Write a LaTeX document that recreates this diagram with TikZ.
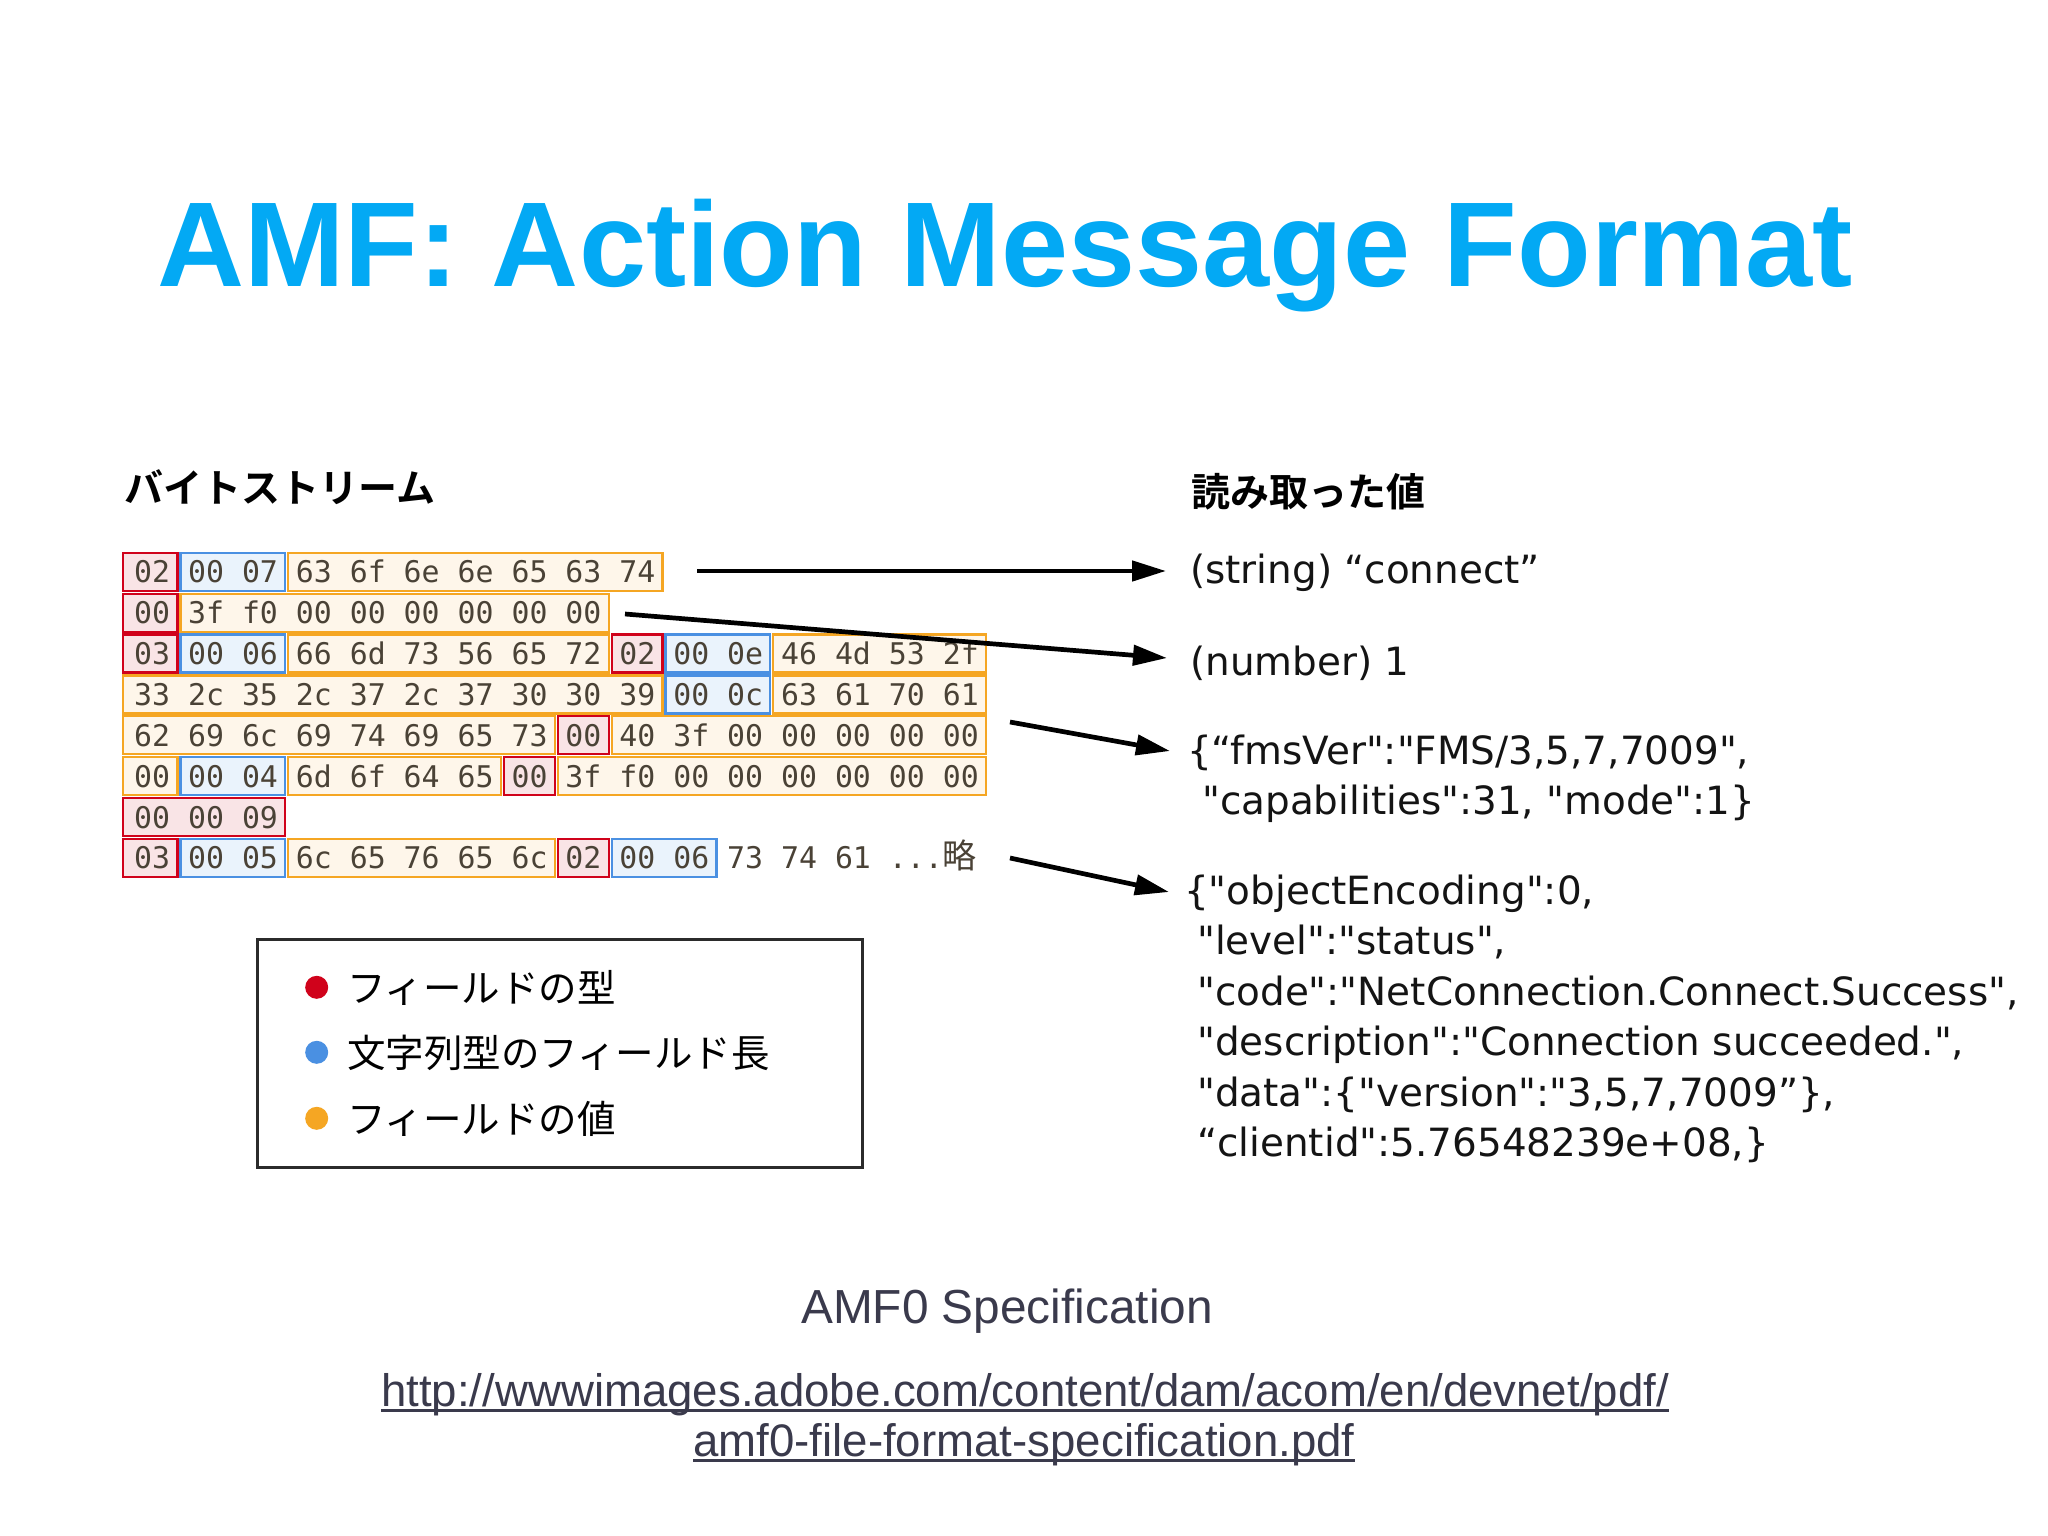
\documentclass[tikz,border=0pt]{standalone}
\usepackage{fontspec}
\setmainfont{DejaVu Sans}[Ligatures=TeXOff]
\newfontfamily\titlefont{Liberation Sans}
\newfontfamily\hexfont{DejaVu Sans Mono}
\newfontfamily\cjk{Noto Sans CJK JP}[BoldFont={Noto Sans CJK JP Bold}]
\usetikzlibrary{arrows.meta}

\definecolor{titleblue}{HTML}{03A9F4}
\definecolor{fred}{HTML}{D0021B}
\definecolor{fblue}{HTML}{4A90E2}
\definecolor{forange}{HTML}{F5A623}
\definecolor{redfill}{HTML}{F9E4E6}
\definecolor{bluefill}{HTML}{EAF3FC}
\definecolor{orangefill}{HTML}{FEF6EA}
\definecolor{hexgray}{HTML}{4A4236}
\definecolor{slate}{HTML}{3A3A4C}
\definecolor{boxgray}{HTML}{2B2B2B}

\newcommand\fsz[1]{\fontsize{#1}{#1}\selectfont}

\tikzset{
  redbox/.style={draw=fred, fill=redfill, line width=2.2pt},
  bluebox/.style={draw=fblue, fill=bluefill, line width=2.2pt},
  orangebox/.style={draw=forange, fill=orangefill, line width=2.2pt},
  hexrow/.style={anchor=base west, inner sep=0pt, text=hexgray, font=\hexfont\fsz{29.85}},
  valtext/.style={anchor=base west, inner sep=0pt, text=black!92, font=\fsz{38.9}},
  legtext/.style={anchor=west, inner sep=0pt, text=black, font=\cjk\fsz{38.5}},
  legdot/.style={circle, inner sep=0pt, minimum size=23pt},
  heading/.style={anchor=west, inner sep=0pt, text=black, font=\cjk\bfseries\fsz{39}},
  conn/.style={line width=4.7pt, black, -{Triangle[length=34pt,width=20pt]}},
  reftext/.style={anchor=base, inner sep=0pt, text=slate, font=\titlefont\fsz{45.6}},
}

% field box: row, first byte, last byte, style
\newcommand\fld[4]{%
  \pgfmathsetmacro\fldyt{552.7+40.9*#1}%
  \pgfmathsetmacro\fldyb{\fldyt+38}%
  \pgfmathsetmacro\fldxl{ifthenelse(#2==0,122.7,126.5+53.9*#2)}%
  \pgfmathsetmacro\fldxr{123.5+53.9*(#3+1)}%
  \draw[#4] (\fldxl,\fldyt) rectangle (\fldxr,\fldyb);%
}

\begin{document}
\begin{tikzpicture}[x=1pt,y=-1pt]
\useasboundingbox (0,0) rectangle (2048,1536);
\fill[white] (0,0) rectangle (2048,1536);

% title
\node[anchor=base west, inner sep=0pt, text=titleblue, font=\titlefont\bfseries\fsz{120.6}] (title) at (157,286) {AMF: Action Message Format};

% headings
\node[heading] (hbytes) at (124,487) {バイトストリーム};
\node[heading] (hvals) at (1191,492) {読み取った値};

% field boxes
\fld{0}{0}{0}{redbox} \fld{0}{1}{2}{bluebox} \fld{0}{3}{9}{orangebox}
\fld{1}{0}{0}{redbox} \fld{1}{1}{8}{orangebox}
\fld{2}{0}{0}{redbox} \fld{2}{1}{2}{bluebox} \fld{2}{3}{8}{orangebox}
\fld{2}{9}{9}{redbox} \fld{2}{10}{11}{bluebox} \fld{2}{12}{15}{orangebox}
\fld{3}{0}{9}{orangebox} \fld{3}{10}{11}{bluebox} \fld{3}{12}{15}{orangebox}
\fld{4}{0}{7}{orangebox} \fld{4}{8}{8}{redbox} \fld{4}{9}{15}{orangebox}
\fld{5}{0}{0}{orangebox} \fld{5}{1}{2}{bluebox} \fld{5}{3}{6}{orangebox}
\fld{5}{7}{7}{redbox} \fld{5}{8}{15}{orangebox}
\fld{6}{0}{2}{redbox}
\fld{7}{0}{0}{redbox} \fld{7}{1}{2}{bluebox} \fld{7}{3}{7}{orangebox}
\fld{7}{8}{8}{redbox} \fld{7}{9}{10}{bluebox}

% hex rows
\node[hexrow] (r0) at (134,582.6) {02 00 07 63 6f 6e 6e 65 63 74};
\node[hexrow] (r1) at (134,623.5) {00 3f f0 00 00 00 00 00 00};
\node[hexrow] (r2) at (134,664.4) {03 00 06 66 6d 73 56 65 72 02 00 0e 46 4d 53 2f};
\node[hexrow] (r3) at (134,705.3) {33 2c 35 2c 37 2c 37 30 30 39 00 0c 63 61 70 61};
\node[hexrow] (r4) at (134,746.2) {62 69 6c 69 74 69 65 73 00 40 3f 00 00 00 00 00};
\node[hexrow] (r5) at (134,787.1) {00 00 04 6d 6f 64 65 00 3f f0 00 00 00 00 00 00};
\node[hexrow] (r6) at (134,828.0) {00 00 09};
\node[hexrow] (r7) at (134,868.9) {03 00 05 6c 65 76 65 6c 02 00 06 73 74 61 ...{\cjk\fsz{34}略}};

% values
\node[valtext] (v1) at (1190,583) {(string) “connect”};
\node[valtext] (v2) at (1190,675) {(number) 1};
\node[valtext] (v3a) at (1187,764) {\{“fmsVer":"FMS/3,5,7,7009",};
\node[valtext] (v3b) at (1202,814) {"capabilities":31, "mode":1\}};
\node[valtext] (v4a) at (1184,904.5) {\{"objectEncoding":0,};
\node[valtext] (v4b) at (1197,954.9) {"level":"status",};
\node[valtext] (v4c) at (1197,1005.3) {"code":"NetConnection.Connect.Success",};
\node[valtext] (v4d) at (1197,1055.7) {"description":"Connection succeeded.",};
\node[valtext] (v4e) at (1197,1106.1) {"data":\{"version":"3,5,7,7009”\},};
\node[valtext] (v4f) at (1197,1156.5) {“clientid":5.76548239e+08,\}};

% arrows
\coordinate (a1s) at (697,571);  \coordinate (a1e) at (1166,571);
\coordinate (a2s) at (625,614);  \coordinate (a2e) at (1167,658);
\coordinate (a3s) at (1010,722); \coordinate (a3e) at (1170,751);
\coordinate (a4s) at (1010,858); \coordinate (a4e) at (1169,892);
\draw[conn] (a1s) -- (a1e);
\draw[conn] (a2s) -- (a2e);
\draw[conn] (a3s) -- (a3e);
\draw[conn] (a4s) -- (a4e);

% legend
\node[draw=boxgray, line width=2.5pt, anchor=north west, inner sep=0pt,
      minimum width=605pt, minimum height=228pt] (legend) at (256,938) {};
\node[legdot, fill=fred] (d1) at (316.7,987.3) {};
\node[legdot, fill=fblue] (d2) at (316.7,1052.3) {};
\node[legdot, fill=forange] (d3) at (316.7,1118.3) {};
\node[legtext] (l1) at (347,988) {フィールドの型};
\node[legtext] (l2) at (347,1053) {文字列型のフィールド長};
\node[legtext] (l3) at (347,1119) {フィールドの値};

% reference
\node[anchor=base, inner sep=0pt, text=slate, font=\titlefont\fsz{47.8}] (spec) at (1007,1323) {AMF0 Specification};
\node[reftext] (url1) at (1025,1406) {http://wwwimages.adobe.com/content/dam/acom/en/devnet/pdf/};
\node[reftext] (url2) at (1024,1456) {amf0-file-format-specification.pdf};
\draw[slate, line width=2.2pt] ([yshift=-4.5pt]url1.base west) -- ([yshift=-4.5pt]url1.base east);
\draw[slate, line width=2.2pt] ([yshift=-4.5pt]url2.base west) -- ([yshift=-4.5pt]url2.base east);
\end{tikzpicture}
\end{document}
